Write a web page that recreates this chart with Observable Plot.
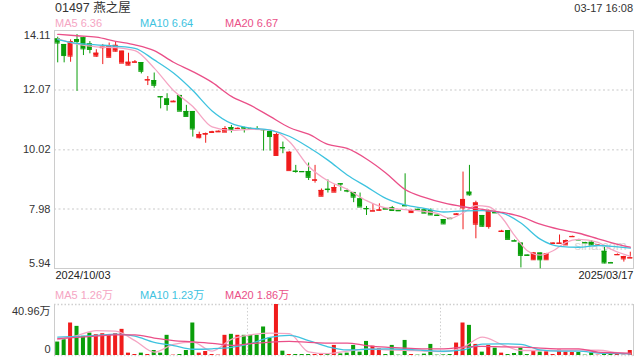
<!DOCTYPE html>
<html><head><meta charset="utf-8">
<script src="https://cdn.jsdelivr.net/npm/d3@7"></script>
<script src="https://cdn.jsdelivr.net/npm/@observablehq/plot@0.6"></script>
<style>
body{margin:0;background:#fff;font-family:"Liberation Sans",Arial,"Noto Sans CJK SC",sans-serif;}
#wrap{position:relative;width:640px;height:360px;overflow:hidden;background:#fff;}
.t{position:absolute;white-space:nowrap;font-size:11px;line-height:1;}
#price,#vol{position:absolute;left:0;}
#price{top:0;} #vol{top:290px;}
svg{font-family:"Liberation Sans",Arial,"Noto Sans CJK SC",sans-serif;}
</style></head><body>
<div id="wrap"><div id="price"></div><div id="vol"></div></div>
<script>
// ---- data ----
const stockTitle = "01497 燕之屋";
const timeStamp = "03-17 16:08";
const dateLabels = ["2024/10/03", "2025/03/17"];
const open = [
13.82,13.63,13.23,13.80,13.86,13.65,13.23,13.52,13.19,13.40,
12.99,12.92,13.02,13.01,12.41,12.39,11.84,11.76,11.66,11.88,
11.33,11.33,10.43,10.55,10.61,10.63,10.62,10.78,10.74,10.77,
10.74,10.74,10.71,10.64,9.82,10.09,9.30,9.28,9.27,9.27,
8.97,8.42,8.66,8.56,8.85,8.61,8.55,8.33,8.00,7.91,
7.94,7.99,8.02,7.93,8.10,7.86,7.97,7.95,7.93,7.77,
7.62,7.66,7.79,8.02,8.56,7.46,7.76,7.38,7.86,7.21,
7.24,6.89,6.81,6.40,6.24,6.47,6.24,6.80,6.80,6.75,
7.03,6.93,6.83,6.84,6.73,6.53,6.14,6.41,6.27,6.30];
const close = [
13.68,13.25,13.73,13.73,13.48,13.46,13.33,13.54,13.56,13.60,
13.40,13.02,13.03,12.71,12.42,12.23,11.83,11.57,11.68,11.34,
11.16,10.73,10.54,10.57,10.63,10.65,10.74,10.71,10.75,10.76,
10.73,10.73,10.70,10.47,10.54,10.08,9.93,9.27,9.26,9.07,
8.98,8.62,8.65,8.72,8.84,8.60,8.39,8.05,7.99,7.92,
7.95,7.98,7.93,7.92,8.09,7.93,7.96,7.84,7.78,7.76,
7.47,7.65,7.81,8.31,8.47,8.19,7.39,7.91,7.85,7.22,
6.94,6.88,6.39,6.39,6.47,6.24,6.44,6.81,6.81,6.90,
7.04,6.92,6.82,6.75,6.74,6.13,6.13,6.42,6.35,6.31];
const high = [
13.88,13.63,13.79,13.97,13.88,13.73,13.45,13.63,13.68,13.73,
13.40,13.33,13.08,13.01,12.53,12.65,11.84,11.94,11.69,11.88,
11.54,11.33,10.62,10.59,10.65,10.66,10.81,10.85,10.77,10.79,
10.76,10.81,10.71,10.64,10.59,10.28,9.95,9.48,9.27,9.56,
9.48,8.67,8.98,8.81,8.85,8.66,8.55,8.53,8.07,8.16,
8.16,8.00,8.07,7.94,9.19,7.95,7.98,7.97,7.99,7.77,
7.62,7.67,7.82,9.25,9.48,8.25,7.76,7.95,7.87,7.25,
7.24,6.92,6.81,6.40,6.49,6.47,6.46,6.82,7.09,6.92,
7.05,6.94,6.84,6.90,6.76,6.67,6.15,6.44,6.36,6.50];
const low = [
13.00,13.00,13.02,12.02,13.25,13.31,13.19,12.94,13.19,13.37,
12.99,12.90,13.00,12.62,12.22,12.13,11.42,11.34,11.65,11.34,
11.16,10.45,10.39,10.24,10.59,10.62,10.62,10.59,10.72,10.59,
10.72,10.68,9.97,9.97,9.82,9.88,9.30,9.21,9.25,8.96,
8.87,8.42,8.53,8.56,8.59,8.54,8.20,8.05,7.76,7.91,
7.91,7.97,7.93,7.91,8.08,7.84,7.95,7.84,7.76,7.75,
7.45,7.64,7.78,7.27,8.42,6.96,7.36,7.29,7.84,7.20,
6.94,6.87,5.96,6.38,6.22,5.93,6.24,6.79,6.80,6.74,
7.02,6.91,6.81,6.73,6.72,6.10,6.12,6.40,6.16,6.30];
// volume, unit: 万
const volume = [
10.8,12.7,26.1,23.4,15.4,18.0,16.7,17.5,16.7,17.5,
21.0,1.9,0.8,1.9,0.8,4.0,1.9,16.2,0.3,0.8,
4.0,26.1,1.9,3.2,0.8,0.3,16.2,17.0,16.2,16.2,
16.2,16.2,22.9,14.0,40.96,3.5,0.8,0.8,0.8,0.8,
0.8,1.3,1.3,8.1,1.3,1.9,8.1,2.7,11.3,7.5,
5.4,0.8,8.1,0.3,12.1,0.8,0.3,1.1,8.9,0.3,
0.5,0.8,10.0,26.1,24.2,8.9,2.7,8.1,5.9,1.9,
0.8,1.6,5.9,0.8,3.5,2.7,3.0,0.8,4.3,2.7,
2.4,2.4,0.3,2.2,0.3,2.2,0.8,0.8,0.3,4.0];

// moving-average lines (index of candle, value)
const maIdx = [0,3,6,9,12,15,18,21,24,27,30,33,36,39,42,45,48,51,54,57,60,63,66,69,72,75,78,81,84,87,89];
const ma5Idx = [0,3,6,9,12,15,18,21,24,27,30,33,36,39,42,45,48,51,54,57,59,61,63,65,67,69,71,73,75,77,79,81,84,86,89];
const ma5 = [13.82,13.64,13.55,13.52,13.42,12.82,12.05,11.50,10.80,10.68,10.72,10.70,10.30,9.45,8.95,8.66,8.27,8.02,7.96,7.90,7.83,7.66,7.85,8.10,8.06,7.70,7.08,6.55,6.40,6.55,6.84,6.94,6.84,6.60,6.36];
const ma10 = [13.80,13.67,13.62,13.57,13.50,13.10,12.65,12.05,11.35,10.92,10.76,10.69,10.48,10.10,9.66,9.15,8.75,8.35,8.12,8.00,7.88,7.92,7.93,7.85,7.50,6.95,6.70,6.67,6.73,6.68,6.64];
const ma20 = [13.98,13.93,13.88,13.74,13.62,13.42,13.02,12.70,12.33,11.85,11.54,11.16,10.78,10.55,10.20,10.06,9.70,9.22,8.65,8.38,8.19,8.06,7.97,7.87,7.72,7.46,7.28,7.15,6.96,6.77,6.67];
const vma5 = [12.7,16.0,20.0,19.5,12.0,2.7,9.0,10.8,3.5,13.0,16.5,18.0,17.5,3.0,1.5,3.5,5.2,4.6,4.2,3.5,3.2,6.5,14.8,9.0,4.0,4.0,4.0,4.3,4.2,2.3,1.26];
const vma10 = [14.8,15.3,16.2,17.2,15.5,10.5,8.0,5.0,5.4,6.6,9.6,14.5,16.2,12.0,7.0,4.5,5.0,5.4,5.0,4.0,3.4,4.5,9.2,9.4,9.0,4.5,3.5,3.5,2.0,1.6,1.23];
const vma20 = [13.5,14.5,15.5,16.5,16.5,14.0,12.0,11.0,9.8,8.2,9.5,10.8,11.3,10.6,10.0,10.0,8.0,6.7,6.0,5.4,5.4,6.8,7.3,7.0,6.7,6.0,5.4,5.4,2.7,2.1,1.86];

const maNames = ["MA5", "MA10", "MA20"];
const maColors = ["#f5a5c3", "#3ec3df", "#ea4f88"];
const priceMaLast = ["6.36", "6.64", "6.67"];
const volMaLast = ["1.26万", "1.23万", "1.86万"];
const yTicks = [14.11, 12.07, 10.02, 7.98, 5.94];
const yTickLabels = ["14.11", "12.07", "10.02", "7.98", "5.94"];
const volTicks = [40.96, 0];
const volTickLabels = ["40.96万", "0"];
const volGridIdx = [29, 59];
const watermark = "sina.com";

// ---- build ----
const RED = "#f01c1c", GREEN = "#0a9e0a";
const n = open.length;
const candles = d3.range(n).map(i => ({i, open: open[i], close: close[i], high: high[i], low: low[i], volume: volume[i]}));
const col = d => d.close >= d.open ? RED : GREEN;
const series = (idx, vals) => idx.map((i, k) => ({i, v: vals[k]}));

const xScale = {type: "band", domain: d3.range(n), paddingInner: 0.22, paddingOuter: 0.11, axis: null};
const txt = {fontSize: 11, fill: "#333"};

const price = Plot.plot({
  width: 640, height: 290,
  marginTop: 30, marginBottom: 22, marginLeft: 54, marginRight: 7,
  x: xScale,
  y: {domain: [5.94, 14.11], axis: null},
  marks: [
    Plot.ruleY(yTicks.slice(1, -1), {stroke: "#dcdcdc", strokeWidth: 1.5, strokeDasharray: "2,2.5"}),
    Plot.frame({stroke: "#cccccc"}),
    Plot.text([watermark], {frameAnchor: "bottom-right", text: d => d, dx: -7, dy: -19, textAnchor: "end", fontSize: 13, fill: "#d4d4d4"}),
    Plot.ruleX(candles, {x: "i", y1: "low", y2: "high", stroke: col, strokeWidth: 1}),
    Plot.barY(candles, {x: "i", y1: "open", y2: "close", fill: col}),
    Plot.tickY(candles, {x: "i", y: "close", stroke: col, strokeWidth: 1}),
    Plot.tickY(candles, {x: "i", y: "open", stroke: col, strokeWidth: 1}),
    Plot.line(series(ma5Idx, ma5), {x: "i", y: "v", stroke: maColors[0], strokeWidth: 1.3, curve: "monotone-x"}),
    Plot.line(series(maIdx, ma10), {x: "i", y: "v", stroke: maColors[1], strokeWidth: 1.3, curve: "monotone-x"}),
    Plot.line(series(maIdx, ma20), {x: "i", y: "v", stroke: maColors[2], strokeWidth: 1.3, curve: "monotone-x"}),
    Plot.text([yTicks[0]], {y: d => d, text: () => yTickLabels[0], frameAnchor: "left", dx: -4, dy: 5, textAnchor: "end", ...txt}),
    Plot.text(yTicks.slice(1, -1), {y: d => d, text: (d, k) => yTickLabels[k + 1], frameAnchor: "left", dx: -4, textAnchor: "end", ...txt}),
    Plot.text([yTicks[4]], {y: d => d, text: () => yTickLabels[4], frameAnchor: "left", dx: -4, dy: -5, textAnchor: "end", ...txt}),
    Plot.text([dateLabels[0]], {text: d => d, frameAnchor: "bottom-left", textAnchor: "start", dx: 1, dy: 10, fontSize: 11, fill: "#222"}),
    Plot.text([dateLabels[1]], {text: d => d, frameAnchor: "bottom-right", textAnchor: "end", dx: 0, dy: 10, fontSize: 11, fill: "#222"})
  ]
});
document.getElementById("price").appendChild(price);

const vol = Plot.plot({
  width: 640, height: 70,
  marginTop: 14, marginBottom: 5, marginLeft: 54, marginRight: 7,
  x: xScale,
  y: {domain: [0, 40.96], axis: null},
  marks: [
    Plot.ruleX(volGridIdx, {x: d => d, dx: 3.2, stroke: "#cfcfcf", strokeDasharray: "1.5,2"}),
    Plot.ruleY([volTicks[0]], {stroke: "#cfcfcf", strokeWidth: 1.3, strokeDasharray: "1.5,2"}),
    Plot.ruleY([volTicks[1]], {stroke: "#dcdcdc", strokeWidth: 1.3, strokeDasharray: "1.5,2"}),
    Plot.frame({anchor: "left", stroke: "#cccccc"}),
    Plot.frame({anchor: "right", stroke: "#cccccc"}),
    Plot.barY(candles, {x: "i", y: "volume", fill: col, insetLeft: 0.5, insetRight: 0.5}),
    Plot.line(series(maIdx, vma5), {x: "i", y: "v", stroke: maColors[0], strokeWidth: 1.3, curve: "monotone-x"}),
    Plot.line(series(maIdx, vma10), {x: "i", y: "v", stroke: maColors[1], strokeWidth: 1.3, curve: "monotone-x"}),
    Plot.line(series(maIdx, vma20), {x: "i", y: "v", stroke: maColors[2], strokeWidth: 1.3, curve: "monotone-x"}),
    Plot.text([volTicks[0]], {y: d => d, text: () => volTickLabels[0], frameAnchor: "left", dx: -4, dy: 7, textAnchor: "end", ...txt}),
    Plot.text([volTicks[1]], {y: d => d, text: () => volTickLabels[1], frameAnchor: "left", dx: -4, dy: -6, textAnchor: "end", ...txt})
  ]
});
document.getElementById("vol").appendChild(vol);

// ---- header texts & legends ----
const wrap = document.getElementById("wrap");
function addText(s, style) {
  const d = document.createElement("div");
  d.className = "t"; d.textContent = s;
  Object.assign(d.style, style);
  wrap.appendChild(d);
}
addText(stockTitle, {left: "55px", top: "2px", fontSize: "12.5px", color: "#333"});
addText(timeStamp, {right: "7px", top: "3px", color: "#333"});
const legendX = [55, 140, 225];
maNames.forEach((m, k) => {
  addText(m + " " + priceMaLast[k], {left: legendX[k] + "px", top: "18px", color: maColors[k]});
  addText(m + " " + volMaLast[k], {left: legendX[k] + "px", top: "290px", color: maColors[k]});
});
</script>
</body></html>
